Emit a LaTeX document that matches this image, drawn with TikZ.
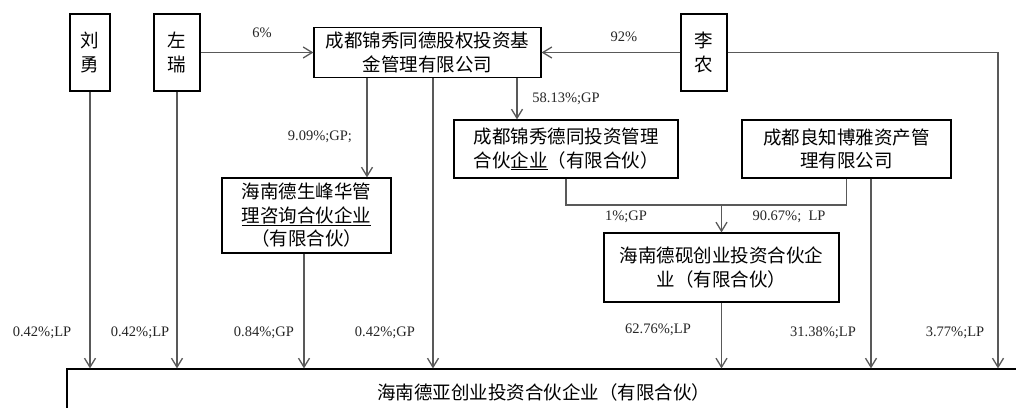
\documentclass[tikz,border=0pt]{standalone}
\usepackage{fontspec}
\setmainfont{Liberation Serif}
\newfontfamily\cjk{Noto Sans CJK SC}
\usetikzlibrary{arrows.meta}
\begin{document}
\begin{tikzpicture}[x=1pt,y=-1pt,
  box/.style={draw, line width=1.2pt, align=center, inner sep=0pt, font=\cjk\fontsize{18.5}{23.5}\selectfont},
  lbl/.style={inner sep=0pt, text=black!85, font=\fontsize{14.5}{16}\selectfont},
  con/.style={draw=black!65, line width=1.3pt},
  arr/.style={con, -{Straight Barb[length=9pt,width=11pt]}}]
\useasboundingbox[fill=white] (0,0) rectangle (1016,407);
\node[box, minimum width=40pt, minimum height=77pt] (liuyong) at (90,52.5){刘\\勇};
\node[box, minimum width=46pt, minimum height=77pt] (zuorui) at (177,52.5){左\\瑞};
\node[box, minimum width=227pt, minimum height=50pt] (jijin) at (427.5,52.5){成都锦秀同德股权投资基\\金管理有限公司};
\node[box, minimum width=46pt, minimum height=77pt] (linong) at (704,52.5){李\\农};
\node[box, minimum width=224pt, minimum height=58pt] (detong) at (566,149){成都锦秀德同投资管理\\合伙\underline{企业}（有限合伙）};
\node[box, minimum width=209pt, minimum height=58pt] (liangzhi) at (846.5,149){成都良知博雅资产管\\理有限公司};
\node[box, minimum width=169pt, minimum height=75pt] (shengfeng) at (306.5,215.5){海南德生峰华管\\\underline{理咨询合伙企业}\\（有限合伙）};
\node[box, minimum width=235pt, minimum height=69pt] (deyan) at (721.5,267.5){海南德砚创业投资合伙企\\业（有限合伙）};
\node[box, minimum width=953pt, minimum height=46pt] (deya) at (543.5,392){海南德亚创业投资合伙企业（有限合伙）};
\coordinate (rt) at (998,52.5);
\coordinate (mj) at ([yshift=27.5pt]deyan.north);
% top row
\draw[arr](zuorui.east) -- (jijin.west);
\draw[arr](linong.west) -- (jijin.east);
\draw[arr](linong.east) -- (rt) -- (rt |- deya.north);
\draw[arr]([xshift=-60.5pt]jijin.south) -- ([xshift=-60.5pt]jijin.south |- shengfeng.north);
\draw[arr]([xshift=89.5pt]jijin.south) -- ([xshift=89.5pt]jijin.south |- detong.north);
% middle
\draw[con](detong.south) |- (mj);
\draw[con](liangzhi.south) |- (mj);
\draw[arr](mj) -- (deyan.north);
% into the fund
\draw[arr](liuyong.south) -- (liuyong.south |- deya.north);
\draw[arr](zuorui.south) -- (zuorui.south |- deya.north);
\draw[arr]([xshift=-2.5pt]shengfeng.south) -- ([xshift=-2.5pt]shengfeng.south |- deya.north);
\draw[arr]([xshift=5.5pt]jijin.south) -- ([xshift=5.5pt]jijin.south |- deya.north);
\draw[arr](deyan.south) -- (deyan.south |- deya.north);
\draw[arr]([xshift=24.5pt]liangzhi.south) -- ([xshift=24.5pt]liangzhi.south |- deya.north);
% labels
\node[lbl] (p6) at (262,33){6\%};
\node[lbl] (p92) at (624,37){92\%};
\node[lbl] (p909) at (320,137){9.09\%;GP;};
\node[lbl] (p5813) at (566,99){58.13\%;GP};
\node[lbl] (p1) at (626,217){1\%;GP};
\node[lbl] (p9067) at (789,217){90.67\%;\ \ LP};
\node[lbl] (pliu) at (42,333){0.42\%;LP};
\node[lbl] (pzuo) at (140,333){0.42\%;LP};
\node[lbl] (psheng) at (264,333){0.84\%;GP};
\node[lbl] (pjin) at (385,333){0.42\%;GP};
\node[lbl] (pyan) at (658,330){62.76\%;LP};
\node[lbl] (pliang) at (823,333){31.38\%;LP};
\node[lbl] (pli) at (955,333){3.77\%;LP};
\end{tikzpicture}
\end{document}
